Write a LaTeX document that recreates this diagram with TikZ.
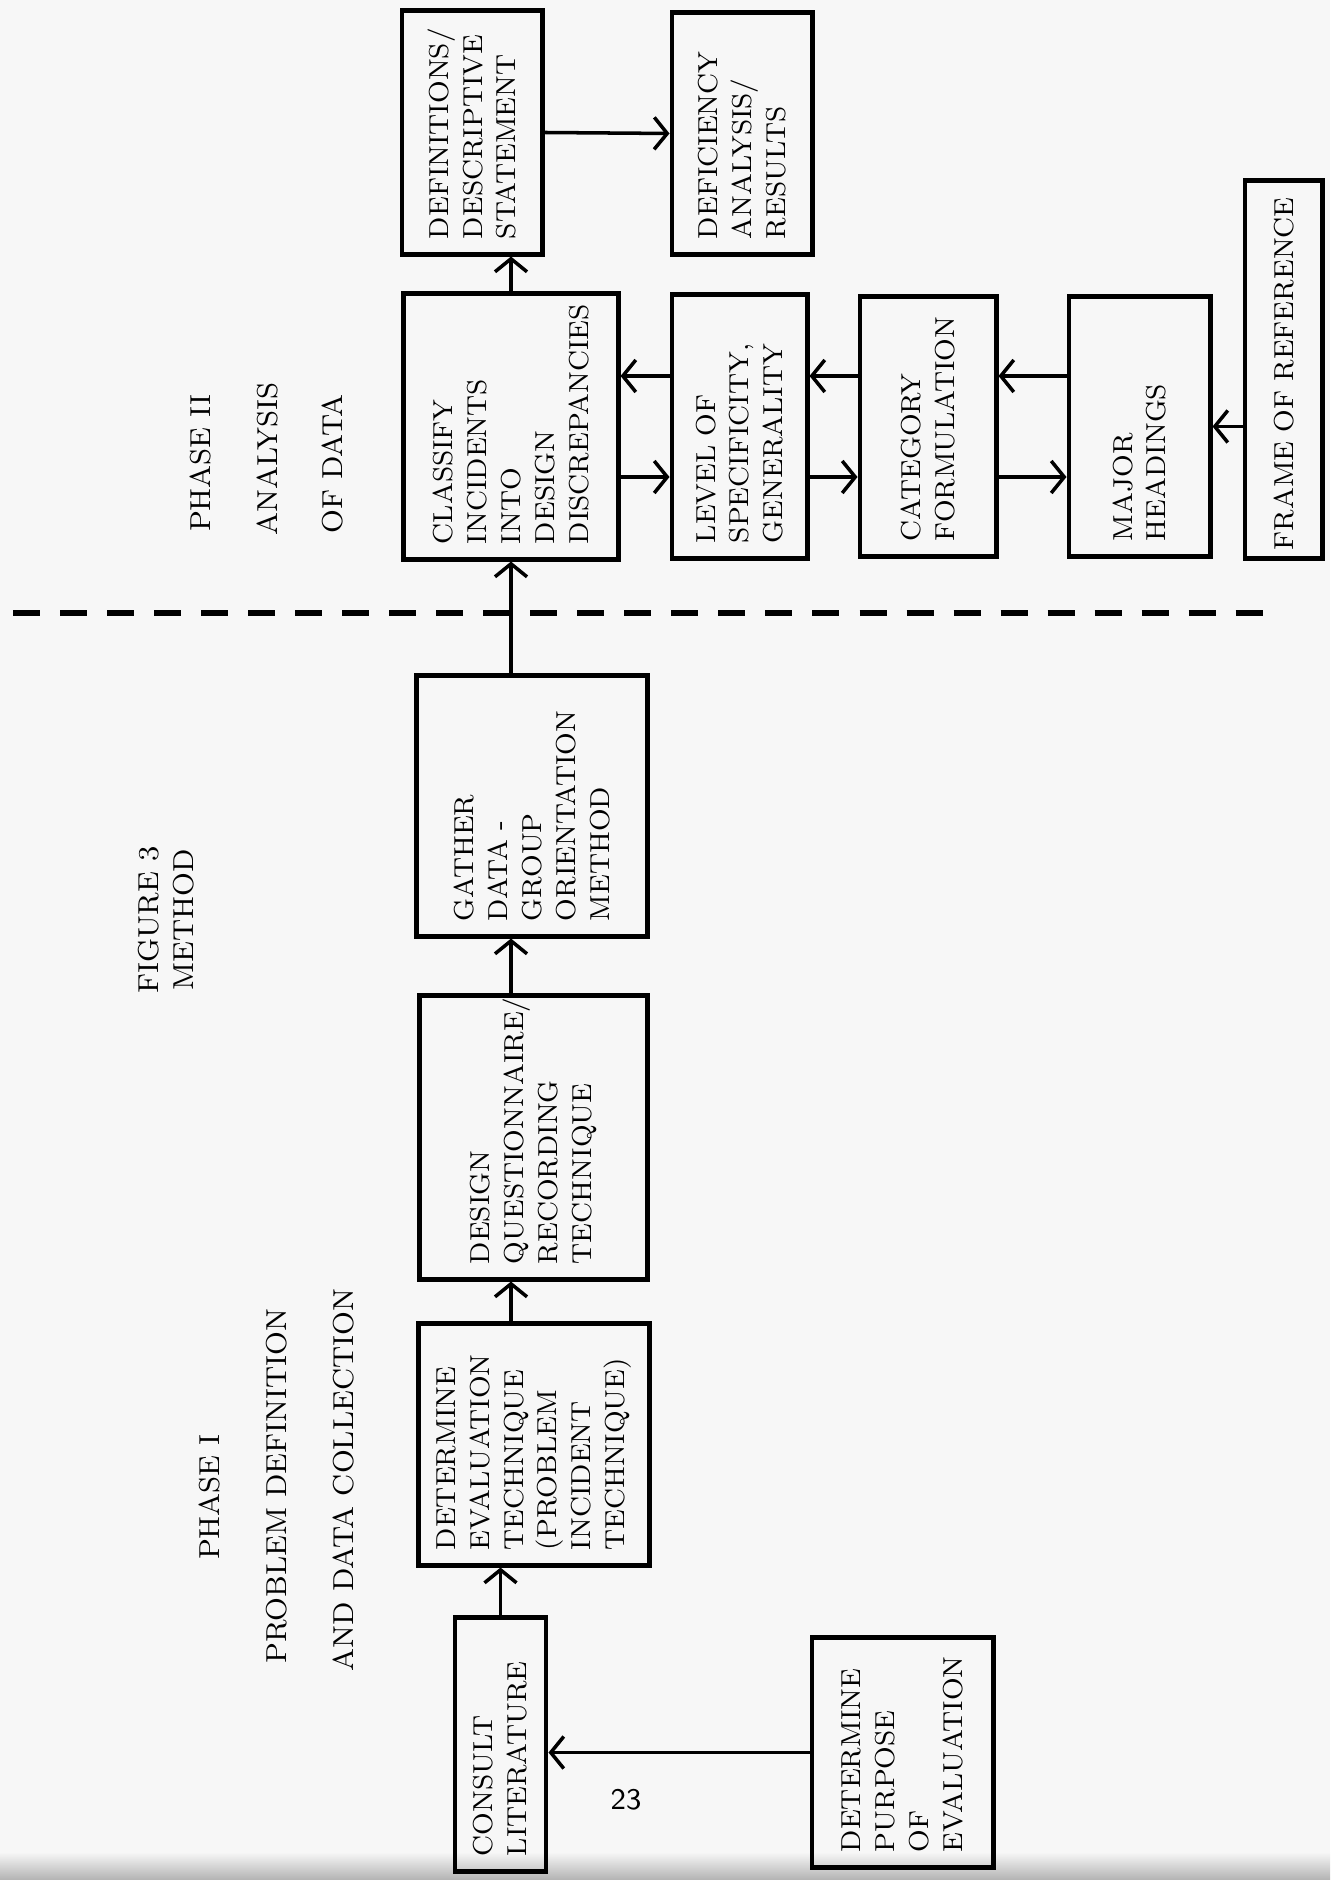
\documentclass[tikz,border=0pt]{standalone}
\usetikzlibrary{arrows.meta}
\tikzset{
  box/.style={draw, rotate=90, line width=1.4pt, inner xsep=1.5mm, align=left, font=\fontsize{7.8}{9.6}\selectfont},
  head/.style={rotate=90, font=\fontsize{8.2}{10}\selectfont},
  arr/.style={-{Straight Barb[length=1.3mm,width=3.2mm]}, line width=1pt}
}
\begin{document}
\begin{tikzpicture}[x=0.01cm,y=-0.01cm]
\useasboundingbox (0,0) rectangle (1330,1880);
\fill[black!3] (0,0) rectangle (1330,1880);
\shade[top color=black!3, bottom color=black!30] (0,1852) rectangle (1330,1880);
\node[box, minimum width=24.3mm, minimum height=14mm, text width=21.3mm] (def) at (472,132.5) {DEFINITIONS/\\DESCRIPTIVE\\STATEMENT};
\node[box, minimum width=24.1mm, minimum height=14mm, text width=21.1mm] (dfc) at (742,133.5) {DEFICIENCY\\ANALYSIS/\\RESULTS};
\node[box, minimum width=26.5mm, minimum height=21.4mm, text width=23.5mm] (cls) at (511,426.5) {CLASSIFY\\INCIDENTS\\INTO\\DESIGN\\DISCREPANCIES};
\node[box, minimum width=26.3mm, minimum height=13.5mm, text width=23.3mm] (lvl) at (739.5,426.5) {LEVEL OF\\SPECIFICITY,\\GENERALITY};
\node[box, minimum width=25.9mm, minimum height=13.6mm, text width=22.9mm] (cat) at (928,426.5) {CATEGORY\\FORMULATION};
\node[box, minimum width=25.9mm, minimum height=14.1mm, text width=22.9mm] (maj) at (1139.5,426.5) {MAJOR\\HEADINGS};
\node[box, minimum width=37.7mm, minimum height=7.7mm, inner xsep=0.8mm, text width=36.1mm] (frm) at (1283.5,369.5) {\mbox{FRAME OF REFERENCE}};
\node[box, minimum width=26mm, minimum height=23mm, text width=23mm] (gth) at (532,806) {GATHER\\DATA -\\GROUP\\ORIENTATION\\METHOD};
\node[box, minimum width=28.3mm, minimum height=22.7mm, text width=25.3mm] (dsg) at (533.5,1137.5) {DESIGN\\QUESTIONNAIRE/\\RECORDING\\TECHNIQUE};
\node[box, minimum width=24.1mm, minimum height=23mm, text width=21.1mm] (det) at (534,1444.5) {DETERMINE\\EVALUATION\\TECHNIQUE\\(PROBLEM\\INCIDENT\\TECHNIQUE)};
\node[box, minimum width=25.3mm, minimum height=9.1mm, text width=22.3mm] (lit) at (500.5,1744.5) {CONSULT\\LITERATURE};
\node[box, minimum width=22.9mm, minimum height=18.1mm, text width=19.9mm] (pur) at (902.5,1752.5) {DETERMINE\\PURPOSE\\OF\\EVALUATION};
\node[head, align=center] (fig) at (166,920) {FIGURE 3\\METHOD};
\node[head] (ph2) at (201,463) {PHASE II};
\node[head] (ana) at (268,459) {ANALYSIS};
\node[head] (ofd) at (333,464) {OF DATA};
\node[head] (ph1) at (210,1497) {PHASE I};
\node[head] (pdf) at (277,1486) {PROBLEM DEFINITION};
\node[head] (adc) at (344,1480) {AND DATA COLLECTION};
\node[font=\sffamily\fontsize{8.5}{10}\selectfont] (pg) at (626,1800) {23};
\coordinate (lo) at (0,477);
\coordinate (hi) at (0,376);
\draw[line width=1.5pt, dash pattern=on 2.7mm off 2mm] (13,613) -- (1275,613);
\draw[arr] (def.south) -- (dfc.north);
\draw[arr] (cls.east) -- (cls.east |- def.west);
\draw[arr] (gth.east -| cls) -- (cls.west);
\draw[arr] (dsg.east -| cls) -- (gth.west -| cls);
\draw[arr] (det.east -| cls) -- (dsg.west -| cls);
\draw[arr] (lit.east) -- (lit.east |- det.west);
\draw[arr] (pur.north) -- (pur.north -| lit.south);
\draw[arr] (cls.south |- lo) -- (lvl.north |- lo);
\draw[arr] (lvl.north |- hi) -- (cls.south |- hi);
\draw[arr] (lvl.south |- lo) -- (cat.north |- lo);
\draw[arr] (cat.north |- hi) -- (lvl.south |- hi);
\draw[arr] (cat.south |- lo) -- (maj.north |- lo);
\draw[arr] (maj.north |- hi) -- (cat.south |- hi);
\draw[arr] (frm.north |- maj) -- (maj.south);
\end{tikzpicture}
\end{document}
